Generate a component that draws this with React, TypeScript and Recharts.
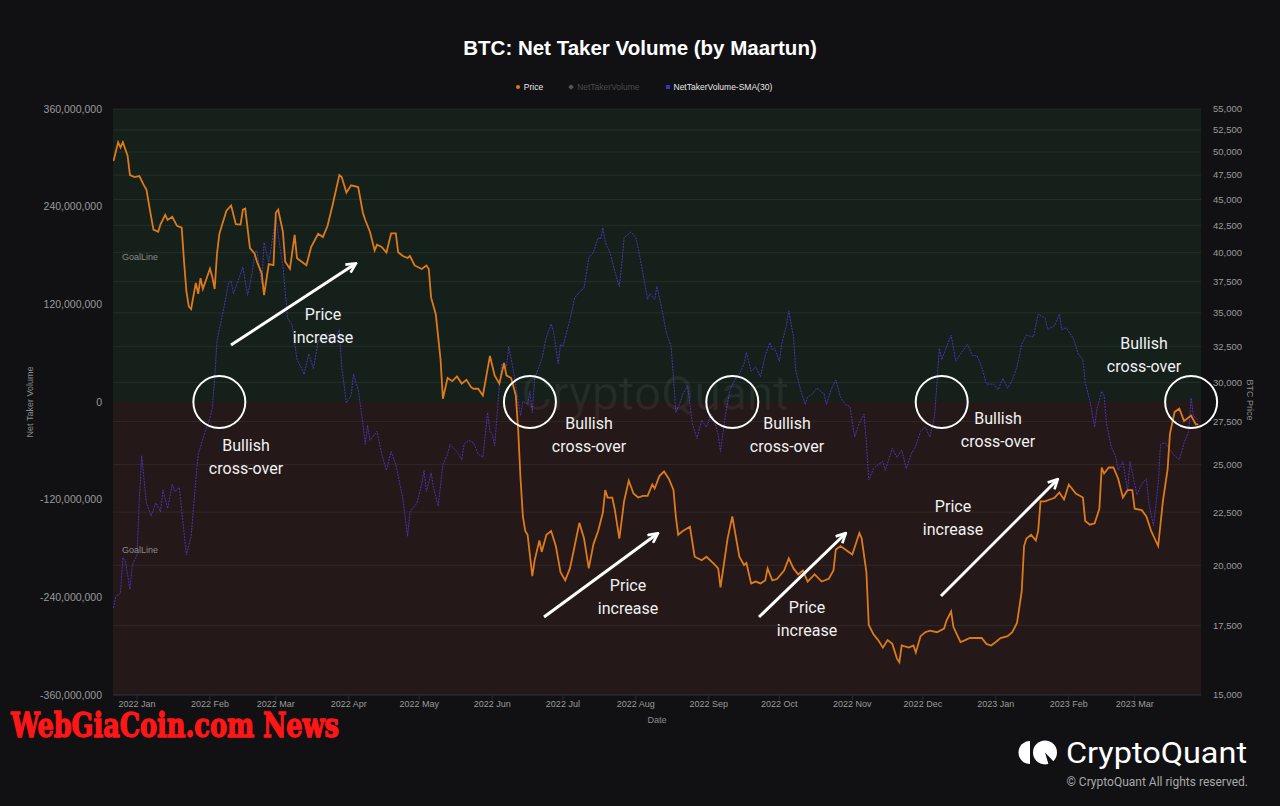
import { LineChart, Line, XAxis, YAxis, ReferenceArea, ReferenceLine, ReferenceDot } from "recharts"

// x values are day offsets from 2022-01-01
const monthTickDays = [0, 31, 59, 90, 120, 151, 181, 212, 243, 273, 304, 334, 365, 396, 424]
const monthTickLabels = [
  "2022 Jan", "2022 Feb", "2022 Mar", "2022 Apr", "2022 May", "2022 Jun", "2022 Jul", "2022 Aug",
  "2022 Sep", "2022 Oct", "2022 Nov", "2022 Dec", "2023 Jan", "2023 Feb", "2023 Mar",
]
const volumeTicks = [-360e6, -240e6, -120e6, 0, 120e6, 240e6, 360e6]
const priceTicks = [
  15000, 17500, 20000, 22500, 25000, 27500, 30000, 32500, 35000, 37500,
  40000, 42500, 45000, 47500, 50000, 52500, 55000,
]
const goalLines = [178e6, -182e6]
const crossOverDays = [35, 167, 253, 342, 448]

const priceDays = [
  -10, -8, -7, -6, -4, -3, -1, 1, 3, 4,
  6, 7, 9, 10, 12, 13, 15, 17, 19, 20,
  21, 22, 23, 25, 26, 27, 28, 31, 32, 33,
  34, 35, 38, 40, 42, 44, 45, 46, 48, 50,
  51, 53, 54, 56, 58, 59, 60, 62, 63, 65,
  67, 68, 70, 72, 74, 77, 79, 81, 83, 86,
  87, 89, 91, 94, 96, 97, 99, 101, 102, 104,
  106, 108, 110, 111, 113, 115, 116, 118, 121, 123,
  124, 125, 127, 129, 130, 132, 134, 136, 138, 140,
  142, 143, 145, 147, 150, 152, 154, 156, 157, 159,
  161, 162, 163, 164, 165, 166, 168, 169, 171, 172,
  174, 176, 178, 180, 182, 184, 186, 188, 190, 192,
  194, 196, 198, 199, 200, 202, 203, 205, 207, 209,
  211, 213, 215, 217, 219, 220, 222, 224, 226, 228,
  229, 230, 232, 235, 237, 240, 242, 245, 247, 248,
  251, 253, 256, 258, 259, 261, 263, 265, 267, 268,
  270, 272, 275, 277, 279, 281, 283, 285, 288, 291,
  294, 296, 297, 299, 301, 304, 307, 308, 310, 311,
  313, 315, 317, 319, 321, 323, 324, 325, 328, 330,
  331, 333, 335, 337, 340, 343, 344, 346, 347, 350,
  352, 354, 359, 361, 363, 365, 367, 370, 372, 374,
  376, 377, 378, 380, 382, 383, 384, 386, 388, 390,
  392, 394, 396, 399, 402, 403, 405, 407, 409, 410,
  411, 413, 415, 417, 419, 421, 423, 424, 427, 429,
  431, 434, 436, 438, 439, 441, 443, 445, 448, 450,
  451,
]
const priceUsd = [
  49000, 51100, 50500, 51100, 49600, 47500, 47300, 47400, 46400, 46000,
  43300, 42100, 41900, 42600, 43500, 43000, 43300, 42450, 42270, 39200,
  36700, 35500, 35300, 37400, 36500, 37800, 36900, 38600, 37900, 36900,
  39900, 41700, 43900, 44400, 42600, 42560, 44000, 44100, 40400, 39900,
  39200, 38200, 36400, 39000, 38900, 43700, 44000, 41900, 39200, 38600,
  41600, 39500, 39200, 38900, 40500, 41700, 41400, 42450, 44340, 47500,
  47300, 45700, 46440, 46260, 43700, 43000, 41900, 40200, 40700, 40500,
  40000, 41740, 41740, 40030, 39700, 39530, 39700, 38880, 38570, 38880,
  38570, 36200, 34870, 31580, 28930, 30290, 30080, 30400, 29920, 30170,
  29680, 29580, 29580, 29140, 31810, 30470, 29920, 31320, 30470, 30290,
  29140, 27000, 24230, 22290, 21580, 21400, 19520, 20220, 21130, 20600,
  21400, 21580, 20870, 19690, 19340, 19860, 20870, 21970, 21220, 19860,
  20960, 21580, 22480, 23630, 23240, 23240, 22670, 21220, 23040, 24130,
  23450, 23240, 23330, 23330, 23920, 23710, 24370, 24620, 24230, 23630,
  22290, 21400, 21580, 21780, 20380, 20220, 20380, 20080, 19860, 19040,
  21220, 22290, 20380, 20010, 20100, 19210, 19290, 19210, 19340, 19860,
  19340, 19400, 19770, 20310, 19860, 19600, 19770, 19290, 19600, 19290,
  19410, 19770, 20710, 20870, 20710, 20480, 21480, 21220, 19690, 17520,
  17160, 16940, 16660, 16940, 16800, 16260, 16130, 16740, 16660, 16740,
  16480, 17090, 17240, 17300, 17240, 17380, 17680, 18050, 17440, 16870,
  16940, 17020, 17020, 16800, 16740, 16870, 17020, 17090, 17240, 17600,
  18870, 20870, 21220, 21400, 21130, 21580, 23040, 23040, 23140, 23230,
  23500, 23140, 23920, 23450, 23240, 22060, 21880, 21950, 22670, 24840,
  24510, 24840, 24840, 24230, 23240, 23630, 23630, 22670, 22600, 22290,
  21580, 20870, 23040, 24730, 26760, 28100, 28300, 27540, 27870, 27330,
  27330,
]

const smaDays = [
  -10, -9, -7, -6, -5, -3, -2, 0, 1, 2,
  4, 6, 8, 10, 11, 13, 15, 16, 18, 19,
  21, 23, 25, 26, 29, 31, 32, 33, 34, 37,
  39, 40, 41, 43, 45, 47, 49, 50, 51, 53,
  54, 56, 57, 59, 60, 62, 64, 66, 68, 70,
  71, 73, 75, 77, 79, 81, 83, 86, 87, 89,
  91, 92, 94, 96, 97, 98, 99, 102, 104, 106,
  108, 110, 113, 115, 116, 119, 121, 122, 123, 125,
  126, 128, 130, 132, 133, 136, 138, 139, 141, 143,
  145, 147, 149, 150, 151, 152, 154, 155, 157, 158,
  160, 162, 163, 164, 166, 167, 168, 169, 172, 174,
  176, 177, 179, 180, 181, 184, 186, 188, 190, 192,
  194, 196, 197, 198, 199, 201, 203, 205, 206, 207,
  210, 212, 213, 215, 217, 218, 220, 221, 223, 225,
  227, 228, 229, 231, 232, 234, 235, 236, 238, 240,
  242, 244, 245, 247, 248, 250, 252, 254, 256, 258,
  259, 261, 263, 265, 267, 269, 270, 271, 273, 274,
  276, 277, 279, 280, 282, 284, 285, 287, 289, 292,
  293, 295, 297, 299, 301, 303, 305, 307, 309, 310,
  311, 313, 315, 317, 318, 321, 323, 325, 327, 329,
  331, 333, 335, 337, 339, 341, 342, 345, 346, 348,
  350, 353, 355, 357, 359, 361, 364, 366, 368, 370,
  372, 374, 376, 378, 381, 383, 386, 387, 390, 392,
  393, 395, 398, 400, 402, 403, 405, 407, 408, 410,
  411, 412, 414, 416, 417, 419, 421, 422, 424, 425,
  427, 429, 430, 432, 434, 435, 437, 439, 441, 443,
  445, 447, 448, 449, 451,
]
// NetTakerVolume-SMA(30), in millions
const smaMillions = [
  -253, -239, -235, -191, -195, -230, -200, -188, -119, -66,
  -124, -140, -124, -135, -108, -131, -101, -110, -105, -133,
  -188, -165, -96, -64, -36, -20, -8, 29, 75, 117,
  147, 149, 133, 149, 166, 131, 159, 184, 186, 145,
  196, 172, 189, 228, 205, 168, 103, 94, 52, 41,
  34, 59, 41, 75, 80, 85, 71, 89, 43, -1,
  8, 34, 15, -26, -52, -29, -47, -36, -64, -84,
  -61, -77, -119, -165, -135, -124, -101, -84, -110, -87,
  -105, -128, -77, -64, -52, -61, -71, -52, -47, -50,
  -64, -68, -13, -36, -40, -54, 20, 47, 43, 68,
  38, 1, -17, 1, -3, 13, -13, 29, 52, 80,
  96, 87, 47, 71, 68, 101, 128, 135, 140, 177,
  184, 202, 200, 214, 196, 184, 161, 142, 168, 202,
  209, 202, 189, 159, 126, 133, 126, 142, 115, 85,
  68, 29, -13, 1, 10, 20, -3, -26, -45, -22,
  -31, -15, -20, -40, -61, -17, 15, 27, 34, 47,
  61, 38, 43, 31, 57, 73, 64, 66, 50, 71,
  94, 112, 80, 38, 15, -3, 6, 10, 17, 10,
  -3, 15, 27, 6, -3, -6, -43, -26, -15, -50,
  -96, -82, -77, -73, -84, -57, -68, -59, -82, -64,
  -54, -36, -31, -43, -17, 66, 52, 75, 82, 50,
  59, 71, 57, 57, 43, 22, 22, 15, 29, 17,
  27, 43, 71, 82, 80, 108, 103, 89, 94, 108,
  89, 91, 78, 59, 52, 24, 1, -31, -8, 13,
  8, -26, -54, -68, -84, -73, -110, -73, -101, -114,
  -101, -94, -124, -152, -101, -52, -50, -59, -66, -71,
  -50, -36, 5, -17, -22,
]

const priceData = priceDays.map((day, i) => ({ day, price: priceUsd[i] }))
const smaData = smaDays.map((day, i) => ({ day, sma: smaMillions[i] * 1e6 }))

const W = 1280
const H = 806
const BG = "#111114"
const TICK = "#9a9a9a"
const ORANGE = "#dd7a1c"
const PURPLE = "#4c34b0"

// annotation overlay (pixel layout)
const notes = [
  { x: 323, y: 314, lines: ["Price", "increase"] },
  { x: 246, y: 445, lines: ["Bullish", "cross-over"] },
  { x: 589, y: 423, lines: ["Bullish", "cross-over"] },
  { x: 628, y: 585, lines: ["Price", "increase"] },
  { x: 787, y: 423, lines: ["Bullish", "cross-over"] },
  { x: 807, y: 607, lines: ["Price", "increase"] },
  { x: 953, y: 506, lines: ["Price", "increase"] },
  { x: 998, y: 418, lines: ["Bullish", "cross-over"] },
  { x: 1144, y: 343, lines: ["Bullish", "cross-over"] },
]
const arrows = [
  [231, 345, 355, 264],
  [544, 617, 657, 534],
  [759, 617, 845, 534],
  [941, 596, 1057, 480],
]

const fmt = (v: number) => v.toLocaleString("en-US")

function Legend() {
  const item = (color: string, label: string, text: string, shape: "dot" | "diamond" | "square") => (
    <div style={{ display: "flex", alignItems: "center", marginRight: 26 }}>
      <span
        style={{
          width: 4,
          height: 4,
          background: color,
          borderRadius: shape === "dot" ? 2 : 0,
          transform: shape === "diamond" ? "rotate(45deg)" : undefined,
          marginRight: 4,
        }}
      />
      <span style={{ color: text }}>{label}</span>
    </div>
  )
  return (
    <div
      style={{
        position: "absolute",
        top: 81,
        left: 0,
        width: W,
        display: "flex",
        justifyContent: "center",
        paddingLeft: 34,
        boxSizing: "border-box",
        fontSize: 8.5,
        lineHeight: "12px",
      }}
    >
      {item(ORANGE, "Price", "#e6e6e6", "dot")}
      {item("#555", "NetTakerVolume", "#4a4a4a", "diamond")}
      {item("#3b2fd0", "NetTakerVolume-SMA(30)", "#e6e6e6", "square")}
    </div>
  )
}

export default function App() {
  return (
    <div
      style={{
        position: "absolute",
        left: 0,
        top: 0,
        width: W,
        height: H,
        background: BG,
        overflow: "hidden",
        fontFamily: '"Liberation Sans", Arial, sans-serif',
      }}
    >
      <div
        style={{
          position: "absolute",
          top: 35,
          width: W,
          textAlign: "center",
          color: "#ffffff",
          fontWeight: 700,
          fontSize: 20.5,
          lineHeight: "26px",
        }}
      >
        BTC: Net Taker Volume (by Maartun)
      </div>
      <Legend />

      <div style={{ position: "absolute", left: 0, top: 0 }}>
        <LineChart width={W} height={H} margin={{ top: 109, right: 0, bottom: 81, left: 0 }}>
          <ReferenceArea yAxisId="left" y1={0} y2={360e6} fill="#15201b" fillOpacity={1} stroke="none" zIndex={-60} />
          <ReferenceArea yAxisId="left" y1={-360e6} y2={0} fill="#241818" fillOpacity={1} stroke="none" zIndex={-60} />
          {priceTicks.map((t) => (
            <ReferenceLine key={t} yAxisId="right" y={t} stroke="rgba(255,255,255,0.065)" strokeWidth={1} zIndex={-50} />
          ))}
          {goalLines.map((g) => (
            <ReferenceLine
              key={g}
              yAxisId="left"
              y={g}
              stroke="none"
              label={{ value: "GoalLine", position: "insideLeft", offset: 9, fill: "#8a8a8a", fontSize: 9 }}
            />
          ))}
          <XAxis
            dataKey="day"
            type="number"
            domain={[-10.2, 452.2]}
            allowDataOverflow
            ticks={monthTickDays}
            tickFormatter={(d: number) => monthTickLabels[monthTickDays.indexOf(d)]}
            height={30}
            tick={{ fill: TICK, fontSize: 9 }}
            axisLine={{ stroke: "#2c2a36" }}
            tickLine={{ stroke: "#2c2a36" }}
            tickSize={5}
            tickMargin={1}
            interval={0}
          />
          <YAxis
            yAxisId="left"
            orientation="left"
            width={113}
            domain={[-360e6, 360e6]}
            ticks={volumeTicks}
            allowDataOverflow
            tickFormatter={fmt}
            tick={{ fill: TICK, fontSize: 10.5 }}
            axisLine={false}
            tickLine={false}
            tickMargin={5}
            interval={0}
          />
          <YAxis
            yAxisId="right"
            orientation="right"
            width={79}
            scale="log"
            domain={[15000, 55000]}
            ticks={priceTicks}
            allowDataOverflow
            tickFormatter={fmt}
            tick={{ fill: TICK, fontSize: 9.5 }}
            axisLine={false}
            tickLine={false}
            tickMargin={6}
            interval={0}
          />
          <Line
            yAxisId="left"
            data={smaData}
            dataKey="sma"
            type="linear"
            stroke={PURPLE}
            strokeWidth={1}
            strokeDasharray="2 1"
            dot={false}
            activeDot={false}
            isAnimationActive={false}
          />
          <Line
            yAxisId="right"
            data={priceData}
            dataKey="price"
            type="linear"
            stroke={ORANGE}
            strokeWidth={1.8}
            dot={false}
            activeDot={false}
            isAnimationActive={false}
          />
          {crossOverDays.map((d) => (
            <ReferenceDot
              key={d}
              yAxisId="left"
              x={d}
              y={0}
              r={26}
              fill="none"
              stroke="#ffffff"
              strokeWidth={2}
              ifOverflow="visible"
            />
          ))}
        </LineChart>
      </div>

      <svg width={W} height={H} style={{ position: "absolute", left: 0, top: 0, pointerEvents: "none" }}>
        <defs>
          <marker id="arrowHead" viewBox="0 0 10 10" refX="8" refY="5" markerWidth="4" markerHeight="4" orient="auto">
            <path d="M1,1 L9,5 L1,9" fill="none" stroke="#ffffff" strokeWidth={2.2} strokeLinejoin="miter" />
          </marker>
        </defs>
        <text x={655} y={410} textAnchor="middle" fontFamily="Roboto" fontSize={48} fill="rgba(255,255,255,0.06)">
          CryptoQuant
        </text>
        {arrows.map(([x1, y1, x2, y2], i) => (
          <line key={i} x1={x1} y1={y1} x2={x2} y2={y2} stroke="#ffffff" strokeWidth={3} markerEnd="url(#arrowHead)" />
        ))}
        {notes.map((n, i) => (
          <text key={i} textAnchor="middle" fontFamily="Roboto" fontSize={16} fill="#f2f2f2">
            {n.lines.map((l, j) => (
              <tspan key={j} x={n.x} y={n.y + j * 23} dominantBaseline="central">
                {l}
              </tspan>
            ))}
          </text>
        ))}
        <text x={30} y={402} transform="rotate(-90 30 402)" textAnchor="middle" dominantBaseline="central" fontSize={9} fill="#8a8a8a">
          Net Taker Volume
        </text>
        <text x={1250} y={400} transform="rotate(90 1250 400)" textAnchor="middle" dominantBaseline="central" fontSize={9} fill="#8a8a8a">
          BTC Price
        </text>
        <text x={657} y={723} textAnchor="middle" fontSize={9} fill="#8a8a8a">
          Date
        </text>
        <text
          x={11}
          y={737}
          fontFamily='"DejaVu Serif", serif'
          fontWeight={700}
          fontStretch="condensed"
          fontSize={33}
          fill="#ff1616"
          stroke="#ff1616"
          strokeWidth={1.3}
          textLength={328}
          lengthAdjust="spacingAndGlyphs"
        >
          WebGiaCoin.com News
        </text>
        <path d="M1030,741 A11.5,11.5 0 0 0 1030,764 Z" fill="#ffffff" />
        <circle cx={1045} cy={752.5} r={12} fill="#ffffff" />
        <path d="M1045,752.5 L1058,766 L1049,766 Z" fill={BG} />
        <text x={1066} y={763} fontFamily="Roboto" fontSize={30} fill="#ffffff" textLength={181} lengthAdjust="spacingAndGlyphs">
          CryptoQuant
        </text>
        <text x={1248} y={786} textAnchor="end" fontFamily="Roboto" fontSize={12} fill="#a8a8a8">
          © CryptoQuant All rights reserved.
        </text>
      </svg>
    </div>
  )
}
